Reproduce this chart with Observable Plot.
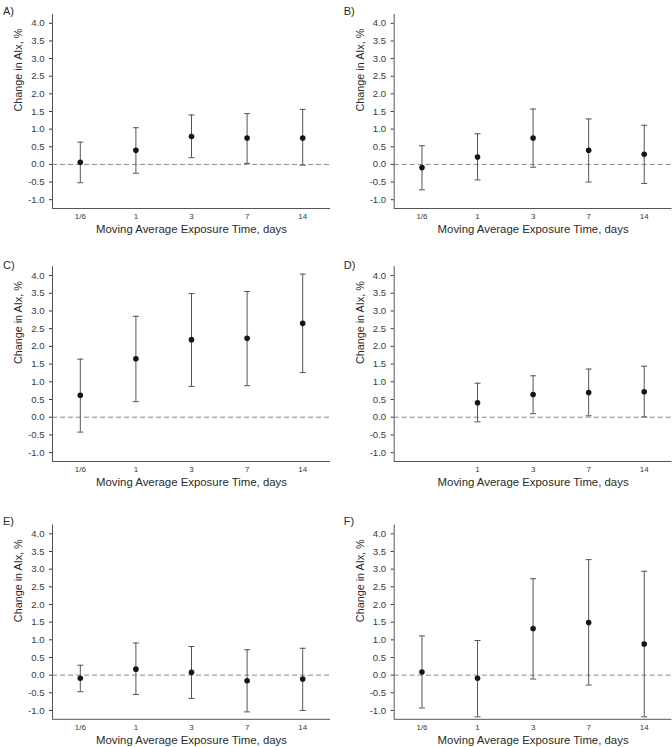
<!DOCTYPE html>
<html>
<head>
<meta charset="utf-8">
<script src="https://cdn.jsdelivr.net/npm/d3@7"></script>
<script src="https://cdn.jsdelivr.net/npm/@observablehq/plot@0.6"></script>
<style>
  html, body { margin: 0; padding: 0; background: #fff; }
  #wrap { position: relative; width: 672px; height: 747px; overflow: hidden; }
  .panel { position: absolute; }
  .panel svg { display: block; }
</style>
</head>
<body>
<div id="wrap"></div>
<script>
// ---- data ----
const categories = ["1/6", "1", "3", "7", "14"];
const yTicks = [-1.0, -0.5, 0.0, 0.5, 1.0, 1.5, 2.0, 2.5, 3.0, 3.5, 4.0];
const xLabel = "Moving Average Exposure Time, days";
const yLabel = "Change in AIx, %";
const panelLabels = ["A)", "B)", "C)", "D)", "E)", "F)"];

const estA = [0.06, 0.40, 0.79, 0.75, 0.75];
const lowA = [-0.52, -0.25, 0.19, 0.03, -0.02];
const highA = [0.63, 1.04, 1.40, 1.44, 1.56];

const estB = [-0.09, 0.21, 0.75, 0.40, 0.29];
const lowB = [-0.72, -0.44, -0.08, -0.50, -0.54];
const highB = [0.53, 0.87, 1.57, 1.29, 1.11];

const estC = [0.62, 1.65, 2.19, 2.23, 2.65];
const lowC = [-0.42, 0.44, 0.87, 0.89, 1.26];
const highC = [1.64, 2.85, 3.49, 3.55, 4.04];

const estD = [null, 0.41, 0.64, 0.70, 0.72];
const lowD = [null, -0.13, 0.10, 0.04, 0.01];
const highD = [null, 0.96, 1.17, 1.36, 1.44];

const estE = [-0.09, 0.17, 0.08, -0.16, -0.11];
const lowE = [-0.47, -0.55, -0.66, -1.04, -1.00];
const highE = [0.28, 0.91, 0.81, 0.72, 0.76];

const estF = [0.09, -0.09, 1.32, 1.49, 0.88];
const lowF = [-0.93, -1.18, -0.11, -0.28, -1.18];
const highF = [1.11, 0.98, 2.73, 3.27, 2.94];

// ---- layout ----
const series = [
  [estA, lowA, highA], [estB, lowB, highB],
  [estC, lowC, highC], [estD, lowD, highD],
  [estE, lowE, highE], [estF, lowF, highF]
];
const rows = [
  {top: 0, height: 250, mt: 14, mb: 42, labelDy: -7.3},
  {top: 250, height: 250, mt: 16.2, mb: 39, labelDy: -6},
  {top: 500, height: 247, mt: 24.5, mb: 28.2, labelDy: -7.5}
];
const cols = [
  {left: 0, ml: 52, mr: 6, labelDx: -49.5},
  {left: 336, ml: 57.7, mr: 0.5, labelDx: -50.5}
];

const capSymbol = {
  draw(context, size) {
    const r = Math.sqrt(size / Math.PI);
    context.moveTo(-r, 0);
    context.lineTo(r, 0);
  }
};

const font = "'Liberation Sans', Arial, Helvetica, sans-serif";
const wrap = document.getElementById("wrap");

series.forEach(([est, low, high], p) => {
  const row = rows[Math.floor(p / 2)];
  const col = cols[p % 2];
  const data = categories.map((c, i) => ({i, cat: c, est: est[i], low: low[i], high: high[i]}))
    .filter(d => d.est != null);
  const xTicks = data.map(d => d.i);

  const chart = Plot.plot({
    width: 336,
    height: row.height,
    marginTop: row.mt,
    marginBottom: row.mb,
    marginLeft: col.ml,
    marginRight: col.mr,
    style: {fontFamily: font, background: "#fff", overflow: "visible", color: "#333"},
    x: {type: "linear", domain: [-0.5, categories.length - 0.5], axis: null},
    y: {domain: [-1.25, 4.25], axis: null},
    marks: [
      Plot.axisY({ticks: yTicks, tickFormat: d => d.toFixed(1), tickSize: 3, tickPadding: 5,
        fontSize: 9.6, color: "#3a3a3a", label: null}),
      Plot.axisX({ticks: xTicks, tickFormat: i => categories[i], tickSize: 0, tickPadding: 5,
        fontSize: 8, color: "#3a3a3a", label: null}),
      Plot.ruleY([0], {stroke: "#8a8a8a", strokeWidth: 1, strokeDasharray: "5,3"}),
      Plot.ruleX([-0.5], {stroke: "#555", strokeWidth: 1}),
      Plot.ruleY([-1.25], {stroke: "#555", strokeWidth: 1}),
      Plot.ruleX(data, {x: "i", y1: "low", y2: "high", stroke: "#555", strokeWidth: 1}),
      Plot.dot(data, {x: "i", y: "high", symbol: capSymbol, r: 3, fill: "none", stroke: "#555", strokeWidth: 1}),
      Plot.dot(data, {x: "i", y: "low", symbol: capSymbol, r: 3, fill: "none", stroke: "#555", strokeWidth: 1}),
      Plot.dot(data, {x: "i", y: "est", r: 2.8, fill: "#151515", stroke: "none"}),
      Plot.text([xLabel], {frameAnchor: "bottom", dy: 24.5, fontSize: 11.4, fill: "#2a2a2a"}),
      Plot.text([yLabel], {frameAnchor: "left", dx: -34, rotate: -90, fontSize: 10.8, fill: "#2a2a2a"}),
      Plot.text([panelLabels[p]], {frameAnchor: "top-left", dx: col.labelDx, dy: row.labelDy,
        textAnchor: "start", fontSize: 11, fill: "#2a2a2a"})
    ]
  });
  const div = document.createElement("div");
  div.className = "panel";
  div.style.left = col.left + "px";
  div.style.top = row.top + "px";
  div.appendChild(chart);
  wrap.appendChild(div);
});
</script>
</body>
</html>
